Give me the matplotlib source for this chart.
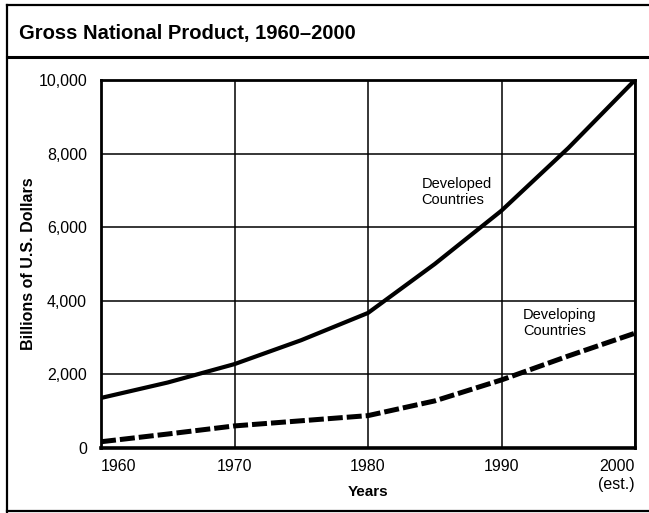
import matplotlib.pyplot as plt
from matplotlib.lines import Line2D

plt.rcParams['font.family'] = ['Liberation Sans', 'DejaVu Sans']

# data (billions of US dollars)
years = [1960, 1965, 1970, 1975, 1980, 1985, 1990, 1995, 2000]
developed = [1360, 1780, 2280, 2930, 3670, 5000, 6450, 8150, 10000]
developing = [170, 380, 600, 740, 880, 1280, 1850, 2500, 3120]

x_ticks = [1960, 1970, 1980, 1990, 2000]
x_labels = ['1960', '1970', '1980', '1990', '2000\n(est.)']
y_ticks = [0, 2000, 4000, 6000, 8000, 10000]
y_labels = ['0', '2,000', '4,000', '6,000', '8,000', '10,000']

W, H = 649, 513
fig = plt.figure(figsize=(W / 100, H / 100), dpi=100)
ax = fig.add_axes([101 / W, 1 - 448 / H, 534 / W, 368 / H])

ax.plot(years, developed, '-', color='black', linewidth=3.0,
        solid_capstyle='butt', zorder=3)
ax.plot(years, developing, color='black', linewidth=3.6,
        dashes=(3.0, 0.8), zorder=3)

ax.set_xlim(1960, 2000)
ax.set_ylim(0, 10000)
ax.set_xticks(x_ticks)
ax.set_xticklabels(x_labels)
ax.set_yticks(y_ticks)
ax.set_yticklabels(y_labels)
ax.tick_params(length=0, labelsize=11.5, pad=10)
ax.tick_params(axis='x', pad=8)

xt = ax.get_xticklabels()
xt[0].set_horizontalalignment('left')
xt[-1].set_horizontalalignment('right')
xt[-1].set_multialignment('center')

ax.grid(True, color='black', linewidth=1.1)
for s in ax.spines.values():
    s.set_linewidth(2.0)
ax.spines['bottom'].set_linewidth(2.6)

ax.set_xlabel('Years', fontsize=11, fontweight='bold', labelpad=-5)
ax.set_ylabel('Billions of U.S. Dollars', fontsize=11.5, fontweight='bold',
              labelpad=2)

ax.text(1984.0, 6950, 'Developed\nCountries', fontsize=10.5, va='center',
        ha='left', linespacing=1.2,
        bbox=dict(facecolor='white', edgecolor='none', pad=1))
ax.text(1991.6, 3400, 'Developing\nCountries', fontsize=10.5, va='center',
        ha='left', linespacing=1.2,
        bbox=dict(facecolor='white', edgecolor='none', pad=1))

# title bar and outer frame
fig.text(19 / W, 1 - 33 / H, 'Gross National Product, 1960\u20132000',
         fontsize=14.5, fontweight='bold', va='center', ha='left')
frame = [((7, 5), (649, 5)), ((7, 5), (7, 513)), ((7, 57), (649, 57)),
         ((7, 511), (649, 511))]
for (x0, y0), (x1, y1) in frame:
    lw = 2.2 if y0 == y1 == 57 else 1.6
    fig.add_artist(Line2D([x0 / W, x1 / W], [1 - y0 / H, 1 - y1 / H],
                          color='black', linewidth=lw))

fig.savefig('out.png', dpi=100)
